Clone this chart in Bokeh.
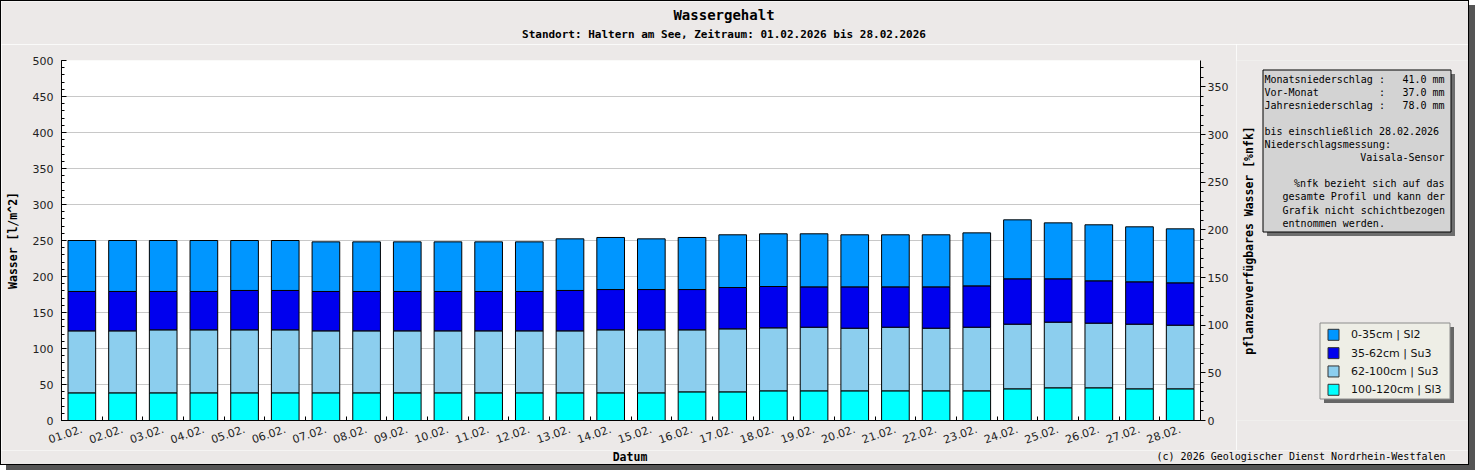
import math
from bokeh.plotting import figure
from bokeh.layouts import column, row
from bokeh.models import (Range1d, LinearAxis, FixedTicker, SingleIntervalTicker,
                          CustomJSTickFormatter, ColumnDataSource)
from bokeh.core.properties import value
from bokeh.embed import file_html
from bokeh.resources import INLINE

# ---------------- data ----------------
dates = ["01.02.", "02.02.", "03.02.", "04.02.", "05.02.", "06.02.", "07.02.",
         "08.02.", "09.02.", "10.02.", "11.02.", "12.02.", "13.02.", "14.02.",
         "15.02.", "16.02.", "17.02.", "18.02.", "19.02.", "20.02.", "21.02.",
         "22.02.", "23.02.", "24.02.", "25.02.", "26.02.", "27.02.", "28.02."]

# water content per layer [l/m^2]
layer_100_120 = [38.4, 38.4, 38.4, 38.4, 38.4, 38.4, 38.4, 38.4, 38.4, 38.4, 38.4, 38.4, 38.4, 38.4,
                 38.4, 39.8, 39.8, 41.2, 41.2, 41.2, 41.2, 41.2, 41.2, 44.0, 45.4, 45.4, 44.0, 44.0]
layer_62_100 = [86.1, 86.1, 87.5, 87.5, 87.5, 87.5, 86.1, 86.1, 86.1, 86.1, 86.1, 86.1, 86.1, 87.5,
                87.5, 86.1, 87.5, 87.5, 88.4, 87.0, 88.4, 87.0, 88.4, 89.8, 91.2, 89.8, 89.8, 88.4]
layer_35_62 = [54.7, 54.7, 53.3, 53.3, 54.7, 54.7, 54.7, 54.7, 54.7, 54.7, 54.7, 54.7, 56.1, 56.0,
               56.0, 56.0, 57.4, 57.4, 56.0, 57.4, 56.0, 57.4, 57.4, 63.0, 60.2, 58.8, 58.8, 58.8]
layer_0_35 = [70.8, 70.8, 70.8, 70.8, 69.4, 69.4, 68.9, 68.9, 68.9, 68.9, 68.9, 68.9, 71.7, 72.3,
              70.4, 72.3, 73.2, 73.2, 73.7, 72.3, 72.3, 72.3, 73.6, 81.9, 77.7, 77.8, 76.4, 75.0]

# legend order (top to bottom) = top layer first
layer_names = ["0-35cm | Sl2", "35-62cm | Su3", "62-100cm | Su3", "100-120cm | Sl3"]
layer_colors = ["#0096FF", "#0000EE", "#8CCEEE", "#00FFFF"]

y_max = 500          # Wasser [l/m^2]
nfk_max = 377.7      # right axis [%nfk]
tick_step = 50

title_text = "Wassergehalt"
subtitle_text = "Standort: Haltern am See, Zeitraum: 01.02.2026 bis 28.02.2026"
left_label = "Wasser [l/m^2]"
right_label = "pflanzenverfügbares Wasser [%nfk]"
x_label = "Datum"
copyright_text = "(c) 2026 Geologischer Dienst Nordrhein-Westfalen"

precip_names = ["Monatsniederschlag", "Vor-Monat", "Jahresniederschlag"]
precip_values = ["41.0 mm", "37.0 mm", "78.0 mm"]
info_text_lines = [
    # (line index, column or "right", text)
    (4, 0, "bis einschließlich 28.02.2026"),
    (5, 0, "Niederschlagsmessung:"),
    (6, "right", "Vaisala-Sensor"),
    (8, "right", "%nfk bezieht sich auf das"),
    (9, 3, "gesamte Profil und kann der"),
    (10, 3, "Grafik nicht schichtbezogen"),
    (11, 3, "entnommen werden."),
]

# ---------------- page geometry (page pixels) ----------------
BG = "#ECE9E8"
MONO = "DejaVu Sans Mono"
SANS = "DejaVu Sans"
N = len(dates)

PX0, PX1 = 1, 1468       # whole chart card
PY0, PY1 = 1, 464
TOP_Y1 = 44              # title strip bottom
BOT_Y0 = 450             # bottom strip top
SIDE_X0 = 1236           # side panel left
FRAME_L, FRAME_T, FRAME_R, FRAME_B = 61, 60, 1200, 420


def strip(x0, x1, y0, y1, ry0=None, ry1=None):
    """figure without axes whose data coordinates are page pixels"""
    ry0 = y0 if ry0 is None else ry0
    ry1 = y1 if ry1 is None else ry1
    f = figure(width=x1 - x0, height=y1 - y0, x_range=Range1d(x0, x1), y_range=Range1d(ry1, ry0),
               output_backend="svg", toolbar_location=None, x_axis_type=None, y_axis_type=None,
               title=None, min_border=0)
    f.min_border_left = 0
    f.min_border_right = 0
    f.min_border_top = ry0 - y0
    f.min_border_bottom = y1 - ry1
    f.background_fill_color = BG
    f.border_fill_color = BG
    f.outline_line_color = None
    return f


def put_text(f, xs, ys, texts, size, font=MONO, bold=False, align="left", angle=0.0, color="black"):
    f.text(x=xs, y=ys, text=texts, text_font=value(font), text_font_size=value(size),
           text_font_style="bold" if bold else "normal", text_align=align,
           text_baseline="middle", angle=angle, text_color=color)


# ---------------- title strip ----------------
p_top = strip(PX0, PX1, PY0, TOP_Y1)
put_text(p_top, [723.5], [14.5], [title_text], "14px", bold=True, align="center")
put_text(p_top, [723.5], [33.5], [subtitle_text], "11px", bold=True, align="center")

# ---------------- main chart ----------------
source = ColumnDataSource(dict(
    x=[i + 0.5 for i in range(N)],
    l100=layer_100_120, l62=layer_62_100, l35=layer_35_62, l0=layer_0_35,
))

main_w = SIDE_X0 - PX0
main_h = BOT_Y0 - TOP_Y1
p = figure(width=main_w, height=main_h, x_range=Range1d(0, N), y_range=Range1d(0, y_max),
           output_backend="svg", toolbar_location=None, title=None,
           min_border_left=FRAME_L - PX0, min_border_top=FRAME_T - TOP_Y1,
           min_border_right=SIDE_X0 - FRAME_R, min_border_bottom=BOT_Y0 - FRAME_B)
p.border_fill_color = BG
p.background_fill_color = "white"
p.outline_line_color = None

renderers = p.vbar_stack(["l100", "l62", "l35", "l0"], x="x", width=0.68, source=source,
                         fill_color=[layer_colors[3], layer_colors[2], layer_colors[1], layer_colors[0]],
                         line_color="black", line_width=1)

p.xgrid.grid_line_color = None
yticker = SingleIntervalTicker(interval=tick_step, num_minor_ticks=5)
p.ygrid.ticker = yticker
p.ygrid.grid_line_color = "#C8C8C8"
p.ygrid.grid_line_width = 1

xax = p.xaxis[0]
xax.ticker = FixedTicker(ticks=[i + 0.5 for i in range(N)], minor_ticks=list(range(N + 1)))
xax.formatter = CustomJSTickFormatter(
    args=dict(labels=dates),
    code="const i = Math.floor(tick); return (i >= 0 && i < labels.length) ? labels[i] : '';")
xax.major_tick_line_color = None
xax.minor_tick_in = 4
xax.minor_tick_out = 0
xax.minor_tick_line_color = "black"
xax.axis_line_color = "black"
xax.major_label_orientation = 0.33
xax.major_label_standoff = 2
xax.major_label_text_font = SANS
xax.major_label_text_font_size = "11px"
xax.major_label_text_color = "#222222"

yax = p.yaxis[0]
yax.ticker = yticker
yax.major_tick_in = 5
yax.major_tick_out = 0
yax.minor_tick_in = 3
yax.minor_tick_out = 0
yax.major_tick_line_color = "black"
yax.minor_tick_line_color = "black"
yax.axis_line_color = "black"
yax.major_label_standoff = 8
yax.major_label_text_font = SANS
yax.major_label_text_font_size = "11px"
yax.major_label_text_color = "#222222"
yax.axis_label = left_label
yax.axis_label_standoff = 10
yax.axis_label_text_font = MONO
yax.axis_label_text_font_size = "11.5px"
yax.axis_label_text_font_style = "bold"
yax.axis_label_text_color = "black"

p.extra_y_ranges = {"nfk": Range1d(0, nfk_max)}
rax = LinearAxis(y_range_name="nfk", ticker=SingleIntervalTicker(interval=tick_step, num_minor_ticks=5))
rax.major_tick_in = 0
rax.major_tick_out = 5
rax.minor_tick_in = 0
rax.minor_tick_out = 3
rax.major_tick_line_color = "black"
rax.minor_tick_line_color = "black"
rax.axis_line_color = "black"
rax.major_label_standoff = 2
rax.major_label_text_font = SANS
rax.major_label_text_font_size = "11px"
rax.major_label_text_color = "#222222"
p.add_layout(rax, "right")

# ---------------- side panel (right axis title, info box, legend) ----------------
# its frame is aligned with the main frame, so map data y to page pixels of that frame
p_side = strip(SIDE_X0, PX1, TOP_Y1, BOT_Y0, ry0=FRAME_T, ry1=FRAME_B)
put_text(p_side, [1248], [240], [right_label], "11.5px", bold=True, align="center", angle=math.pi / 2)

# info box
p_side.quad(left=[1266.5], right=[1454.5], top=[73.5], bottom=[235.5], fill_color="#6E6E6E", line_color=None)
p_side.quad(left=[1262.5], right=[1450.5], top=[69.5], bottom=[231.5], fill_color="#D3D3D3",
            line_color="black", line_width=1)
CW = 6.02
COL0 = 1264.0
RIGHT = COL0 + 30 * CW - 0.5
LINE0 = 78.5
LH = 13.1
xs, ys, ts, al = [], [], [], []
for i, (nm, val) in enumerate(zip(precip_names, precip_values)):
    yy = LINE0 + i * LH
    xs += [COL0, COL0 + 19 * CW, RIGHT]
    ys += [yy, yy, yy]
    ts += [nm, ":", val]
    al += ["left", "left", "right"]
for li, col, txt in info_text_lines:
    yy = LINE0 + li * LH
    if col == "right":
        xs.append(RIGHT)
        al.append("right")
    else:
        xs.append(COL0 + col * CW)
        al.append("left")
    ys.append(yy)
    ts.append(txt)
info_src = ColumnDataSource(dict(x=xs, y=ys, text=ts, align=al))
p_side.text(x="x", y="y", text="text", text_align="align", source=info_src,
            text_font=value(MONO), text_font_size=value("10px"), text_baseline="middle",
            text_color="black")

# legend
LEG_L, LEG_R, LEG_T, LEG_B = 1319.5, 1449.5, 322.5, 398.5
p_side.quad(left=[LEG_L + 4], right=[LEG_R + 4], top=[LEG_T + 4], bottom=[LEG_B + 4],
            fill_color="#666666", line_color=None)
p_side.quad(left=[LEG_L], right=[LEG_R], top=[LEG_T], bottom=[LEG_B],
            fill_color="#EEEEE6", line_color="#8C8C8C", line_width=1)
ITEM0 = 334.3
PITCH = 18.33
cy = [ITEM0 + k * PITCH for k in range(len(layer_names))]
p_side.quad(left=[1327.5] * 4, right=[1338.5] * 4, top=[c - 5.5 for c in cy], bottom=[c + 5.5 for c in cy],
            fill_color=layer_colors, line_color="#333333", line_width=1)
put_text(p_side, [1350.5] * 4, cy, layer_names, "11px", font=SANS, color="#111111")

# ---------------- bottom strip ----------------
p_bot = strip(PX0, PX1, BOT_Y0, PY1)
put_text(p_bot, [629.5], [456.9], [x_label], "11.5px", bold=True, align="center")
put_text(p_bot, [1445], [455.9], [copyright_text], "10px", align="right")

layout = column(p_top, row(p, p_side), p_bot)
layout.styles = {"margin-left": "1px", "margin-top": "1px",
                 "box-shadow": "0 0 0 1px #000000, 6px 5px 0 1px #555555"}

open("out.html", "w").write(file_html(layout, INLINE))
